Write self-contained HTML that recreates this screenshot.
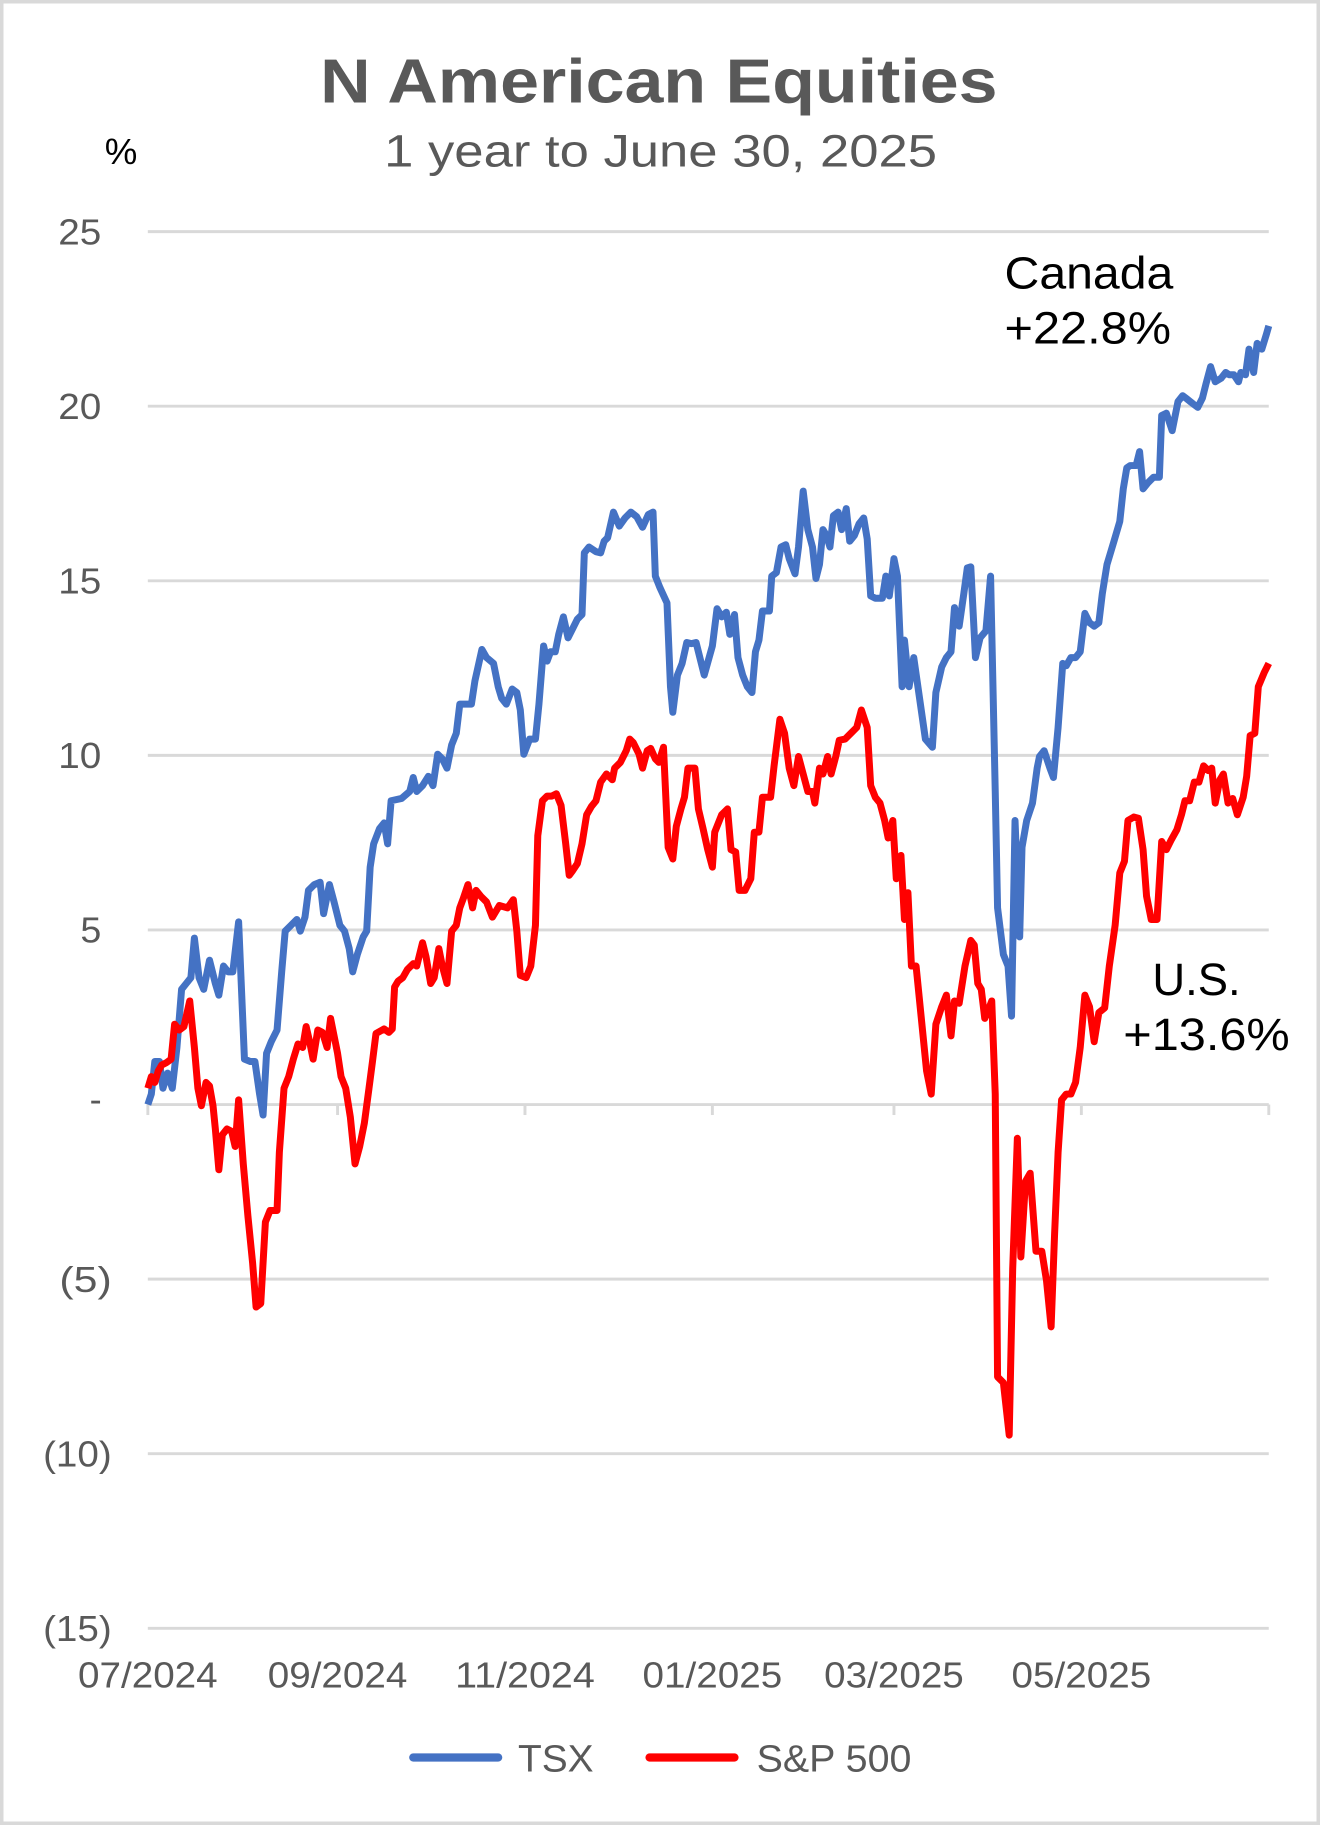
<!DOCTYPE html>
<html><head><meta charset="utf-8"><style>
html,body{margin:0;padding:0;background:#fff}
svg{display:block}
text{font-family:"Liberation Sans",Arial,sans-serif}
</style></head><body>
<svg width="1320" height="1825" viewBox="0 0 1134 1568" preserveAspectRatio="none" xmlns="http://www.w3.org/2000/svg">
<rect x="1.5" y="1.5" width="1131" height="1565" fill="#fff" stroke="#d9d9d9" stroke-width="3"/>
<text x="275" y="88" textLength="582" lengthAdjust="spacingAndGlyphs" font-size="53" font-weight="bold" fill="#595959">N American Equities</text>
<text x="330" y="143" textLength="475" lengthAdjust="spacingAndGlyphs" font-size="39" fill="#595959">1 year to June 30, 2025</text>
<text x="90" y="141" textLength="28" lengthAdjust="spacingAndGlyphs" font-size="31" fill="#000">%</text>
<g stroke="#d9d9d9" stroke-width="2.5">
<line x1="127" y1="199" x2="1090" y2="199"/><line x1="127" y1="349" x2="1090" y2="349"/>
<line x1="127" y1="499" x2="1090" y2="499"/><line x1="127" y1="649" x2="1090" y2="649"/>
<line x1="127" y1="799" x2="1090" y2="799"/><line x1="127" y1="949" x2="1090" y2="949"/>
<line x1="127" y1="1099" x2="1090" y2="1099"/><line x1="127" y1="1249" x2="1090" y2="1249"/>
<line x1="127" y1="1399" x2="1090" y2="1399"/>
<line x1="127" y1="949" x2="127" y2="958"/><line x1="290" y1="949" x2="290" y2="958"/><line x1="451" y1="949" x2="451" y2="958"/><line x1="612" y1="949" x2="612" y2="958"/><line x1="768" y1="949" x2="768" y2="958"/><line x1="929" y1="949" x2="929" y2="958"/><line x1="1090" y1="949" x2="1090" y2="958"/>
</g>
<g font-size="31" fill="#595959">
<text x="50" y="210" textLength="37" lengthAdjust="spacingAndGlyphs">25</text>
<text x="50" y="360" textLength="37" lengthAdjust="spacingAndGlyphs">20</text>
<text x="50" y="510" textLength="37" lengthAdjust="spacingAndGlyphs">15</text>
<text x="50" y="660" textLength="37" lengthAdjust="spacingAndGlyphs">10</text>
<text x="69" y="810" textLength="18" lengthAdjust="spacingAndGlyphs">5</text>
<text x="77" y="955">-</text>
<text x="51" y="1110" textLength="45" lengthAdjust="spacingAndGlyphs">(5)</text>
<text x="37" y="1260" textLength="59" lengthAdjust="spacingAndGlyphs">(10)</text>
<text x="37" y="1410" textLength="59" lengthAdjust="spacingAndGlyphs">(15)</text>
</g>
<g font-size="31" fill="#595959">
<text x="67" y="1450" textLength="120" lengthAdjust="spacingAndGlyphs">07/2024</text>
<text x="230" y="1450" textLength="120" lengthAdjust="spacingAndGlyphs">09/2024</text>
<text x="391" y="1450" textLength="120" lengthAdjust="spacingAndGlyphs">11/2024</text>
<text x="552" y="1450" textLength="120" lengthAdjust="spacingAndGlyphs">01/2025</text>
<text x="708" y="1450" textLength="120" lengthAdjust="spacingAndGlyphs">03/2025</text>
<text x="869" y="1450" textLength="120" lengthAdjust="spacingAndGlyphs">05/2025</text>
</g>
<polyline fill="none" stroke="#4472c4" stroke-width="6" stroke-linejoin="round" points="127,949 130,940 133,912 137,912 140,935 144,922 148,935 152,900 156,850 160,845 164,840 167,806 171,840 175,850 180,825 185,845 188,855 192,830 196,835 200,835 205,792 210,910 215,912 219,912 223,940 226,958 229,905 233,895 238,885 242,835 245,800 250,795 255,790 258,800 262,788 265,765 270,760 275,758 278,785 283,760 287,775 292,795 296,800 300,815 303,835 307,820 312,805 315,800 318,745 321,725 326,712 330,707 333,725 336,688 345,686 352,680 355,668 358,680 363,675 368,667 372,675 376,648 380,652 384,660 388,640 392,630 395,605 400,605 405,605 408,585 414,558 418,565 424,570 428,590 431,600 435,605 440,592 444,595 447,610 450,648 455,635 460,635 463,605 467,555 470,568 473,560 477,560 480,545 484,530 488,548 492,540 496,532 500,528 502,475 506,470 512,474 516,475 519,465 522,462 527,440 532,452 537,445 542,440 547,444 552,453 557,442 561,440 563,495 567,505 573,518 576,590 578,612 582,580 586,570 590,552 594,553 598,552 602,568 605,580 612,555 616,523 620,530 624,526 627,545 631,528 634,565 638,580 642,590 646,595 649,560 652,550 655,525 661,525 663,495 667,492 671,470 675,468 678,480 683,493 686,470 690,422 694,455 698,470 701,497 704,485 707,455 710,460 713,470 716,443 720,440 723,455 727,437 730,465 734,460 738,450 742,445 745,463 748,512 752,514 758,514 761,495 764,512 768,480 771,495 775,590 777,550 781,590 785,565 790,600 795,635 801,642 804,595 809,573 813,565 817,560 820,522 824,538 828,510 831,488 834,487 838,565 842,548 847,542 851,495 855,680 857,780 862,820 866,830 869,873 872,705 876,805 878,728 882,705 887,690 891,660 893,650 897,645 902,660 905,668 909,625 913,570 916,572 920,565 924,565 928,560 932,527 936,535 940,538 944,535 947,510 951,485 954,475 957,465 962,448 965,420 968,402 971,400 976,400 979,388 982,420 986,415 991,410 996,410 998,357 1002,355 1007,370 1012,345 1016,340 1020,343 1025,347 1029,350 1033,342 1036,330 1040,315 1044,328 1049,325 1053,320 1056,322 1060,322 1064,328 1066,320 1070,322 1073,300 1077,320 1080,295 1084,300 1088,287 1090,280"/>
<polyline fill="none" stroke="#ff0000" stroke-width="6" stroke-linejoin="round" points="127,935 130,925 133,930 136,920 139,915 143,913 147,910 150,880 154,885 158,882 163,860 167,900 170,935 173,950 177,930 180,933 183,950 185,970 188,1005 191,975 195,970 199,972 202,985 205,945 209,1000 213,1045 217,1085 220,1123 224,1120 228,1050 232,1040 238,1040 240,990 244,935 248,925 252,910 256,897 260,900 263,882 266,895 269,910 273,885 277,887 281,900 284,875 287,890 290,905 293,925 297,935 301,960 305,1000 309,985 313,965 317,935 320,912 323,888 330,884 334,887 337,884 339,848 342,843 346,840 350,833 355,828 358,830 363,810 366,822 370,845 373,840 377,815 380,830 384,845 388,800 392,795 395,780 398,772 402,760 406,780 409,765 413,770 418,775 423,788 426,783 429,778 436,780 441,773 444,800 447,838 452,840 456,830 460,795 462,718 466,688 470,684 474,684 478,682 482,692 486,725 489,752 492,748 496,742 500,725 504,700 508,693 512,688 516,672 521,665 526,670 528,660 533,655 538,645 541,635 544,638 549,648 552,660 556,645 559,643 563,652 566,655 570,642 574,728 578,738 581,710 585,695 588,685 591,660 597,660 600,695 604,712 608,730 612,745 614,715 620,700 625,695 628,730 632,732 635,765 640,765 645,755 648,715 652,715 655,685 662,685 665,658 670,618 674,630 678,660 682,675 686,650 690,665 694,680 698,680 700,690 704,660 707,665 711,650 714,665 718,650 721,636 726,635 731,630 736,625 740,610 745,625 748,675 752,685 756,690 760,705 763,720 767,705 770,755 774,735 777,790 780,767 783,830 787,830 791,870 796,920 800,940 804,880 809,865 813,855 817,890 820,860 824,862 829,830 834,808 837,812 840,845 843,850 846,875 849,868 852,860 855,940 857,1183 862,1188 867,1233 870,1090 874,978 877,1080 881,1015 885,1008 890,1075 895,1075 899,1100 903,1140 906,1060 909,990 912,945 916,940 920,940 924,930 928,900 932,855 936,865 940,895 944,870 949,866 953,830 958,795 962,750 966,740 969,705 974,702 978,703 982,730 985,770 989,790 994,790 998,723 1002,730 1006,722 1011,713 1015,700 1018,688 1022,688 1026,672 1030,672 1034,658 1038,662 1041,660 1044,690 1048,670 1051,665 1055,690 1059,686 1063,700 1068,685 1071,667 1074,632 1078,630 1081,590 1086,578 1090,570"/>
<g font-size="39" fill="#000">
<text x="863" y="248" textLength="145" lengthAdjust="spacingAndGlyphs">Canada</text>
<text x="863" y="295" textLength="143" lengthAdjust="spacingAndGlyphs">+22.8%</text>
<text x="990" y="855">U.S.</text>
<text x="965" y="902" textLength="143" lengthAdjust="spacingAndGlyphs">+13.6%</text>
</g>
<line x1="355" y1="1510" x2="428" y2="1510" stroke="#4472c4" stroke-width="7" stroke-linecap="round"/>
<text x="445" y="1522" font-size="33" fill="#595959" textLength="65" lengthAdjust="spacingAndGlyphs">TSX</text>
<line x1="558" y1="1510" x2="631" y2="1510" stroke="#ff0000" stroke-width="7" stroke-linecap="round"/>
<text x="650" y="1522" font-size="33" fill="#595959" textLength="133" lengthAdjust="spacingAndGlyphs">S&amp;P 500</text>
</svg>
</body></html>
